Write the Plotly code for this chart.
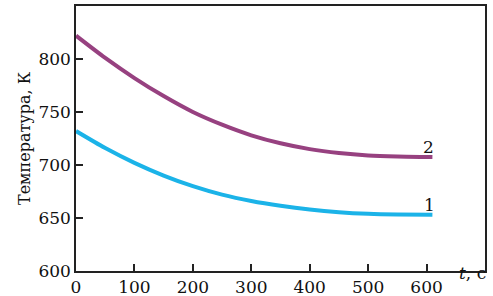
import plotly.graph_objects as go

t_values = [0, 50, 100, 150, 200, 250, 300, 350, 400, 450, 500, 550, 610]
temp_curve1 = [732, 716, 702, 690, 680, 672, 666, 661.5, 658, 655.5, 654, 653.3, 653]
temp_curve2 = [822, 801, 782, 765, 750, 738, 728, 720.5, 715, 711.3, 709, 708, 707.5]
curve_labels = ["1", "2"]
x_ticks = [0, 100, 200, 300, 400, 500, 600]
y_ticks = [600, 650, 700, 750, 800]

FONT = "DejaVu Serif"
fig = go.Figure()
fig.add_trace(go.Scatter(x=t_values, y=temp_curve1, mode="lines",
                         line=dict(color="#1bb3e8", width=4, shape="spline", smoothing=0.8),
                         showlegend=False))
fig.add_trace(go.Scatter(x=t_values, y=temp_curve2, mode="lines",
                         line=dict(color="#974180", width=4, shape="spline", smoothing=0.8),
                         showlegend=False))

fig.add_annotation(x=605, y=662, text=curve_labels[0], showarrow=False,
                   font=dict(family=FONT, size=17, color="#111"))
fig.add_annotation(x=604, y=717, text=curve_labels[1], showarrow=False,
                   font=dict(family=FONT, size=17, color="#111"))
fig.add_annotation(xref="paper", yref="paper", x=1.0, xanchor="right", xshift=3,
                   y=0, yshift=-14,
                   text="<i>t</i>, с", showarrow=False,
                   font=dict(family=FONT, size=17, color="#111"))

axis_common = dict(showline=True, linecolor="#222", linewidth=1.5, mirror=True,
                   ticks="inside", ticklen=7, tickcolor="#222", tickwidth=1.5,
                   showgrid=False, zeroline=False, automargin=False,
                   tickfont=dict(family=FONT, size=17, color="#111"))
fig.update_xaxes(range=[0, 700], tickvals=x_ticks, **axis_common)
fig.update_yaxes(range=[600, 850], tickvals=y_ticks,
                 title=dict(text="Температура, К", standoff=4,
                            font=dict(family=FONT, size=16, color="#111")),
                 **axis_common)

fig.update_layout(width=493, height=296,
                  margin=dict(l=76, r=8, t=6, b=25),
                  paper_bgcolor="white", plot_bgcolor="white")
fig.write_html("out.html", config={"displayModeBar": False},
               post_script="document.body.style.margin='0';")
